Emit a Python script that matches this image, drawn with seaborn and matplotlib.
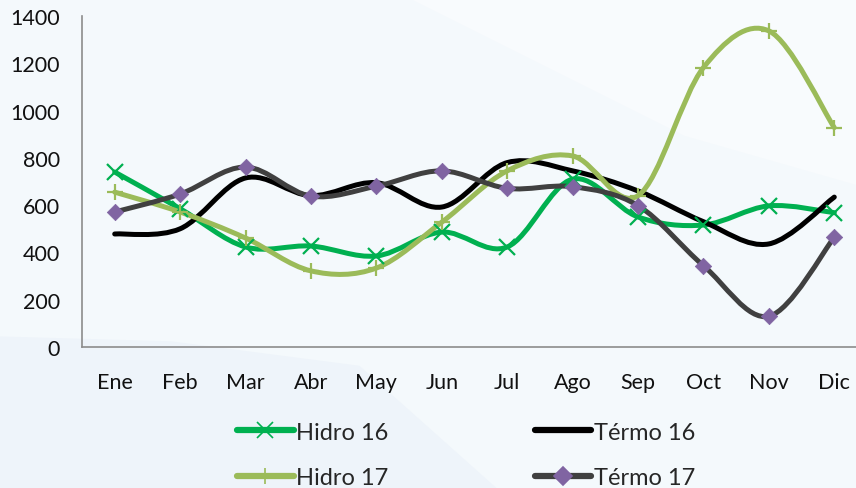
"""Generación mensual: hidro vs térmica, 2016 y 2017."""

import matplotlib
matplotlib.use('Agg')
import matplotlib.pyplot as plt
from matplotlib.path import Path
from matplotlib.patches import PathPatch, Polygon
from matplotlib.lines import Line2D
import seaborn as sns
import numpy as np

meses = ['Ene', 'Feb', 'Mar', 'Abr', 'May', 'Jun',
         'Jul', 'Ago', 'Sep', 'Oct', 'Nov', 'Dic']

hidro_16 = [740, 585, 423, 427, 385, 486, 423, 710, 550, 516, 597, 568]
termo_16 = [478, 500, 715, 640, 695, 592, 780, 745, 660, 530, 436, 634]
hidro_17 = [655, 571, 461, 322, 334, 528, 745, 808, 640, 1182, 1337, 928]
termo_17 = [571, 647, 761, 638, 680, 745, 671, 678, 598, 344, 130, 464]

series = [
    ('Hidro 16', hidro_16, '#00b050', 'x'),
    ('Térmo 16', termo_16, '#000000', None),
    ('Hidro 17', hidro_17, '#9bbb59', '+'),
    ('Térmo 17', termo_17, '#404040', 'D'),
]
DIAMOND = '#8064a2'

sns.set_theme(style='white')
plt.rcParams['font.family'] = ['Lato', 'DejaVu Sans']

BG = '#f4f9fc'


def smooth_path(xs, ys):
    """Excel-style smoothed line as cubic Bezier segments."""
    pts = np.column_stack([xs, ys]).astype(float)
    n = len(pts)
    verts = [pts[0]]
    codes = [Path.MOVETO]
    for i in range(n - 1):
        p0 = pts[max(i - 1, 0)]
        p1 = pts[i]
        p2 = pts[i + 1]
        p3 = pts[min(i + 2, n - 1)]
        c1 = p1 + (p2 - p0) / 6
        c2 = p2 - (p3 - p1) / 6
        verts += [c1, c2, p2]
        codes += [Path.CURVE4] * 3
    return Path(verts, codes)


fig = plt.figure(figsize=(8.56, 4.89), dpi=100, facecolor=BG)

# faint background swooshes
bg = fig.add_axes([0, 0, 1, 1], zorder=-5)
bg.set_xlim(0, 1)
bg.set_ylim(0, 1)
bg.axis('off')
bg.add_patch(Polygon([(0.48, 1), (1, 1), (1, 0.62), (0.8, 0.72)],
                     closed=True, color='#f8fbfd', lw=0))
bg.add_patch(Polygon([(0, 0.31), (0.2, 0.30), (0.42, 0.25), (0.58, 0.0), (0, 0)],
                     closed=True, color='#eef4fa', lw=0))

ax = fig.add_axes([82 / 856, 141 / 489, 785 / 856, 331 / 489])
ax.set_facecolor('none')

x = np.arange(len(meses))
for name, vals, color, marker in series:
    ax.add_patch(PathPatch(smooth_path(x, vals), facecolor='none',
                           edgecolor=color, lw=3.6, capstyle='round',
                           joinstyle='round', zorder=2))
    if marker == 'D':
        sns.scatterplot(x=x, y=vals, marker='D', s=70, color=DIAMOND,
                        edgecolor=DIAMOND, linewidth=0.5, ax=ax, zorder=3)
    elif marker is not None:
        sns.lineplot(x=x, y=vals, marker=marker, linestyle='', color=color,
                     markersize=12, markeredgewidth=1.6,
                     markeredgecolor=color, markerfacecolor=color,
                     ax=ax, zorder=3)

ax.set_xlim(-0.5, 11.5)
ax.set_ylim(0, 1400)
ax.set_yticks(range(0, 1401, 200))
ax.set_xticks(x, meses)
ax.tick_params(axis='both', length=0, labelsize=15.5, colors='#111111')
ax.tick_params(axis='y', pad=16)
ax.tick_params(axis='x', pad=18)
for side in ['top', 'right']:
    ax.spines[side].set_visible(False)
for side in ['left', 'bottom']:
    ax.spines[side].set_color('#8c8c8c')
    ax.spines[side].set_linewidth(1.2)
ax.grid(False)

# legend fills column-wise: Hidro 16 / Hidro 17 | Térmo 16 / Térmo 17
order = [0, 2, 1, 3]
handles, labels = [], []
for i in order:
    name, vals, color, marker = series[i]
    mcol = DIAMOND if marker == 'D' else color
    handles.append(Line2D([], [], color=color, lw=4.5, solid_capstyle='round',
                          marker=marker, markersize=11 if marker != 'D' else 9,
                          markerfacecolor=mcol, markeredgecolor=mcol,
                          markeredgewidth=1.2))
    labels.append(name)
fig.legend(handles, labels, ncol=2, loc='center',
           bbox_to_anchor=(466 / 856, 1 - 456 / 489), frameon=False,
           fontsize=17, handlelength=2.4, handletextpad=0.1,
           columnspacing=6.2, labelspacing=1.05)

fig.savefig('out.png', dpi=100, facecolor=BG)
plt.close(fig)
